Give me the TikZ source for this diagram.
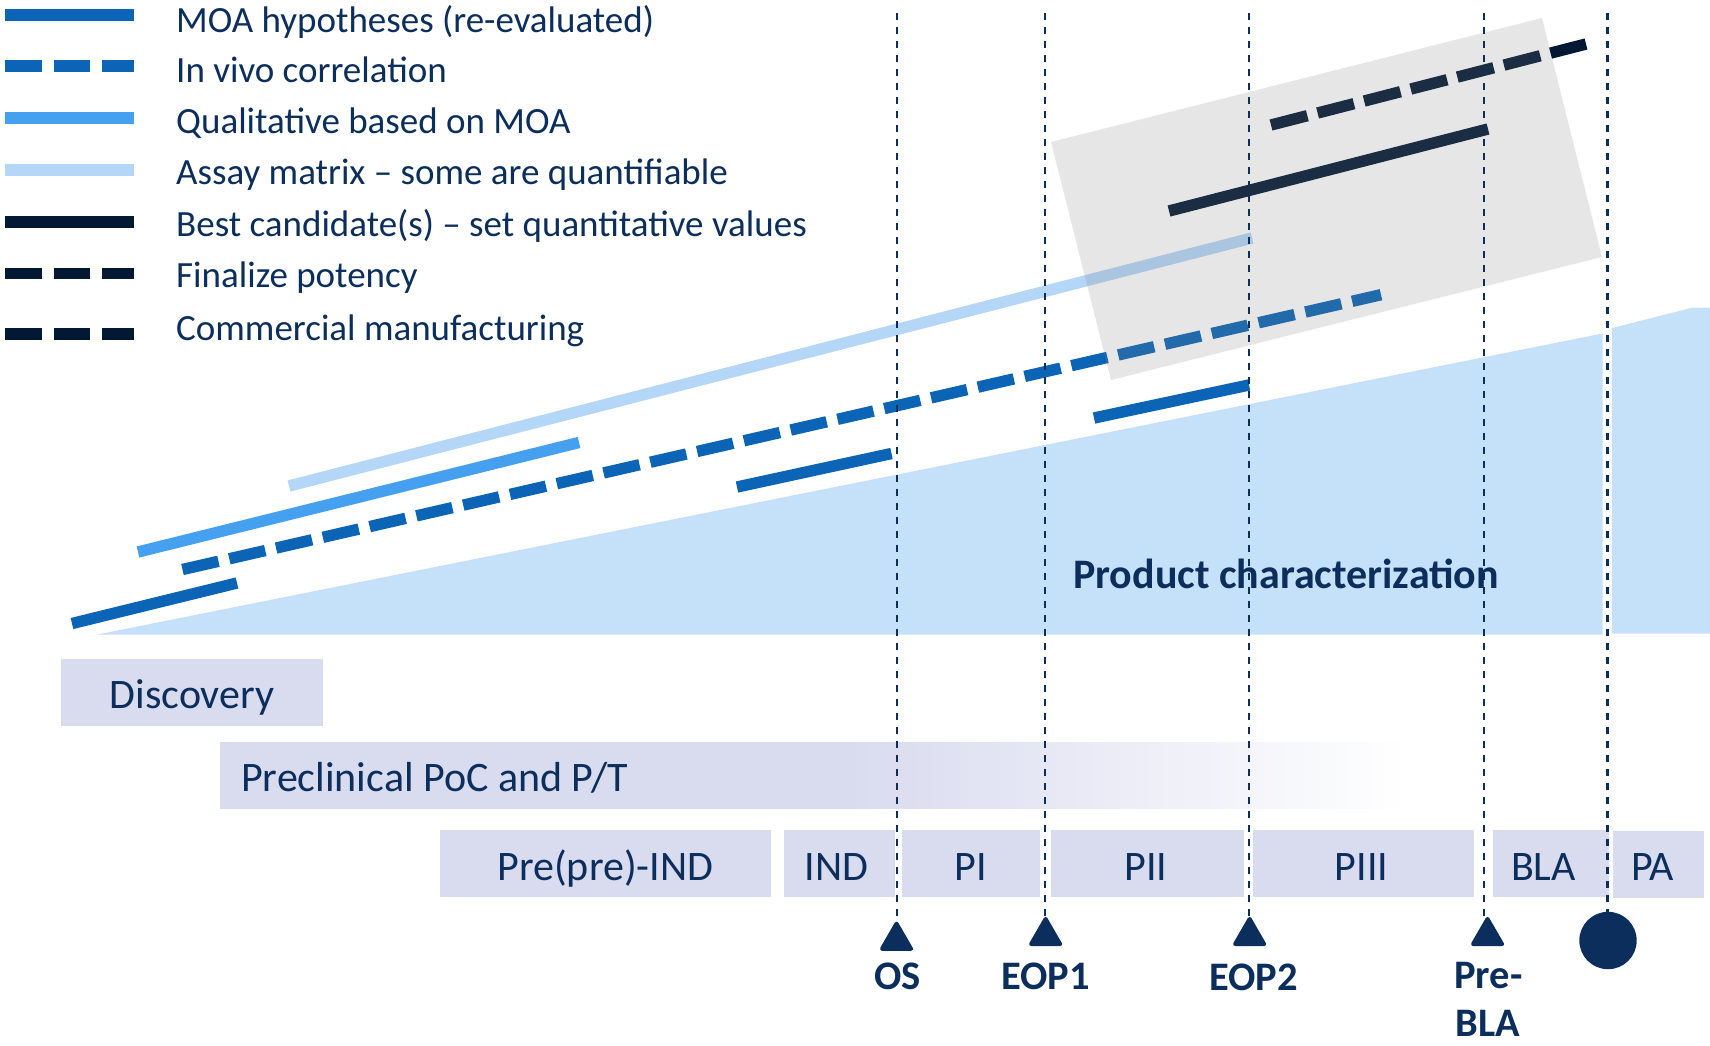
\documentclass[tikz,border=0pt]{standalone}
\usepackage{fontspec}
\setmainfont{Carlito}
\usetikzlibrary{shapes.geometric}

\definecolor{navy}{RGB}{11,46,92}
\definecolor{ink}{RGB}{2,24,51}
\definecolor{moablue}{RGB}{12,100,182}
\definecolor{qualblue}{RGB}{70,160,240}
\definecolor{assayblue}{RGB}{180,214,247}
\definecolor{prodfill}{RGB}{196,225,249}
\definecolor{phase}{RGB}{217,219,239}
\definecolor{shadebox}{RGB}{131,131,131}

\begin{document}
\begin{tikzpicture}[x=1pt,y=-1pt,
  bar/.style={line width=11.4pt},
  dashbar/.style={line width=11.4pt, dash pattern=on 36.8pt off 11.2pt},
  legtxt/.style={anchor=base west, inner sep=0pt, text=navy, font=\fontsize{37}{44}\selectfont},
  phasebox/.style={fill=phase, draw=none, inner sep=0pt, outer sep=0pt, minimum height=66.7pt},
  phasetxt/.style={anchor=base, inner sep=0pt, text=navy, font=\fontsize{42}{50}\selectfont},
  mslabel/.style={anchor=base, inner sep=0pt, text=navy, font=\bfseries\fontsize{40.5}{48}\selectfont},
  milestone/.style={regular polygon, regular polygon sides=3, fill=navy, draw=navy,
    line width=4pt, line join=round, inner sep=0pt, outer sep=0pt, minimum size=33.5pt},
  guide/.style={navy, line width=2.2pt, dash pattern=on 7.3pt off 6.7pt}
]
\useasboundingbox (0,0) rectangle (1710,1045);

% product characterization wedge
\fill[prodfill] (97.6,634.5) -- (1602.5,333.5) -- (1602.5,634.5) -- cycle;
\fill[prodfill] (1612,328) -- (1693,307.5) -- (1710,307.5) -- (1710,633.5) -- (1612,633.5) -- cycle;
\node[anchor=base west, inner sep=0pt, text=navy, font=\bfseries\fontsize{42}{50}\selectfont]
  (prodtxt) at (1073,588.3) {Product characterization};

% assay development tracks
\coordinate (asA) at (289,486);   \coordinate (asB) at (1252,238);
\coordinate (quA) at (138,552);   \coordinate (quB) at (579,442.5);
\coordinate (ivA) at (182.5,569.5); \coordinate (ivB) at (1381,294.7);
\coordinate (m1A) at (72,623.5);  \coordinate (m1B) at (237,583);
\coordinate (m2A) at (737,487);   \coordinate (m2B) at (891.5,453.5);
\coordinate (m3A) at (1094,418);  \coordinate (m3B) at (1249,385);
\coordinate (bcA) at (1169,211);  \coordinate (bcB) at (1488,129);
\coordinate (fpA) at (1271,125);  \coordinate (fpB) at (1586,44);

\draw[bar, assayblue] (asA) -- (asB);
\draw[bar, qualblue] (quA) -- (quB);
\draw[bar, moablue, dash pattern=on 36.9pt off 11.1pt] (ivA) -- (ivB);
\draw[bar, moablue] (m1A) -- (m1B);
\draw[bar, moablue] (m2A) -- (m2B);
\draw[bar, moablue] (m3A) -- (m3B);
\draw[bar, ink] (bcA) -- (bcB);
\draw[bar, ink, dash pattern=on 37.5pt off 10.6pt] (fpA) -- (fpB);

% late-stage panel
\fill[shadebox, opacity=0.2] (1051,142) -- (1542,18) -- (1602,257) -- (1111,380) -- cycle;

% phase bars
\node[phasebox, minimum width=262pt] (disc) at (192,692.3) {};
% preclinical bar: solid part, then a fade to white in thin strips
\fill[phase] (220,742.3) rectangle (851,809);
\foreach \k in {0,...,110} {
  \pgfmathsetmacro{\xa}{850+5*\k}
  \pgfmathsetmacro{\xb}{\xa+5.6}
  \pgfmathsetmacro{\pc}{100-100*(\k+0.5)/111}
  \fill[phase!\pc!white] (\xa,742.3) rectangle (\xb,809);
}
\node[phasebox, minimum width=330.7pt] (ppind) at (605.6,863.3) {};
\node[phasebox, minimum width=110.8pt] (ind) at (839.6,863.3) {};
\node[phasebox, minimum width=138pt] (pI) at (971.3,863.3) {};
\node[phasebox, minimum width=193.1pt] (pII) at (1147.9,863.3) {};
\node[phasebox, minimum width=221.2pt] (pIII) at (1363.2,863.3) {};
\node[phasebox, minimum width=116pt] (bla) at (1551,863.3) {};
\node[phasebox, minimum width=91pt] (pa) at (1658.5,864.3) {};

\node[phasetxt] (discT) at (192,708) {Discovery};
\node[phasetxt, anchor=base west] (preT) at (241,791.7) {Preclinical PoC and P/T};
\node[phasetxt] (ppindT) at (605.3,880) {Pre(pre)-IND};
\node[phasetxt] (indT) at (836.5,880) {IND};
\node[phasetxt] (pIT) at (971,880) {PI};
\node[phasetxt] (pIIT) at (1146,880) {PII};
\node[phasetxt] (pIIIT) at (1361.6,880) {PIII};
\node[phasetxt] (blaT) at (1543.5,880) {BLA};
\node[phasetxt] (paT) at (1652.5,880) {PA};

% milestones
\node[milestone] (os) at (896.5,940.4) {};
\node[milestone] (eop1) at (1045.6,935.7) {};
\node[milestone] (eop2) at (1249.6,935.7) {};
\node[milestone] (prebla) at (1487.5,935.7) {};
\node[circle, fill=navy, inner sep=0pt, minimum size=57.4pt] (appr) at (1608,940.5) {};

\coordinate (osTop) at (897.3,13);
\coordinate (eop1Top) at (1045.3,13);
\coordinate (eop2Top) at (1249.3,13);
\coordinate (preblaTop) at (1484.2,13);
\coordinate (apprTop) at (1607.4,13);
\draw[guide] (osTop) -- (osTop |- os.corner 1);
\draw[guide] (eop1Top) -- (eop1Top |- eop1.corner 1);
\draw[guide] (eop2Top) -- (eop2Top |- eop2.corner 1);
\draw[guide] (preblaTop) -- (preblaTop |- prebla.corner 1);
\draw[guide] (apprTop) -- (apprTop |- appr.north);

\node[mslabel] (osT) at (897.6,989) {OS};
\node[mslabel] (eop1T) at (1045.7,989.3) {EOP1};
\node[mslabel] (eop2T) at (1253.5,990) {EOP2};
\node[mslabel] (preblaT1) at (1488.5,988.5) {Pre-};
\node[mslabel] (preblaT2) at (1487.5,1036.5) {BLA};

% legend
\draw[bar, moablue] (5.4,15) -- (134.4,15);
\draw[dashbar, moablue, dash pattern=on 36.6pt off 11.7pt] (5.4,66) -- (134.4,66);
\draw[bar, qualblue] (5.4,118) -- (134.4,118);
\draw[bar, assayblue] (5.4,170) -- (134.4,170);
\draw[bar, ink] (5.4,222) -- (134.4,222);
\draw[dashbar, ink, dash pattern=on 36.6pt off 11.7pt] (5.4,273.5) -- (134.4,273.5);
\draw[dashbar, ink, dash pattern=on 36.6pt off 11.7pt] (5.4,334) -- (134.4,334);

\node[legtxt] (lg1) at (176,32.3) {MOA hypotheses (re-evaluated)};
\node[legtxt] (lg2) at (176,82.5) {In vivo correlation};
\node[legtxt] (lg3) at (176,133.5) {Qualitative based on MOA};
\node[legtxt] (lg4) at (176,184.5) {Assay matrix – some are quantifiable};
\node[legtxt] (lg5) at (176,236.5) {Best candidate(s) – set quantitative values};
\node[legtxt] (lg6) at (176,287.5) {Finalize potency};
\node[legtxt] (lg7) at (176,340) {Commercial manufacturing};
\end{tikzpicture}
\end{document}
